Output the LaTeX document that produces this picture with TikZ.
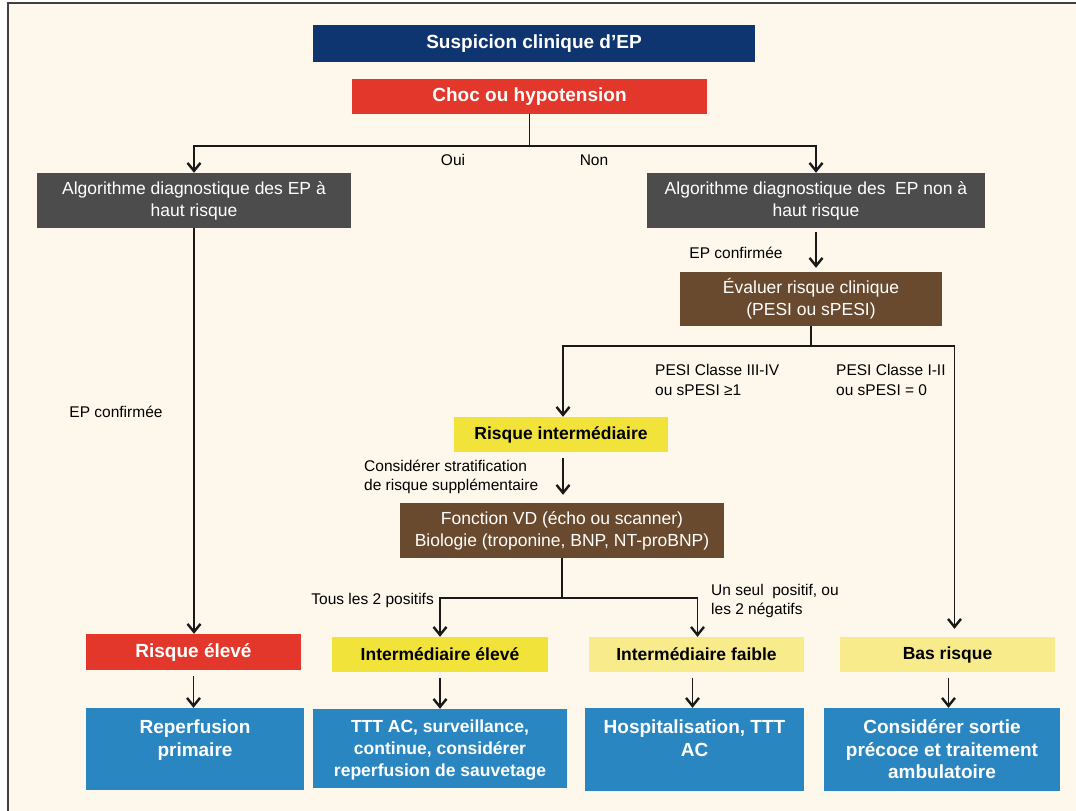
\documentclass[tikz,border=0pt]{standalone}
\usepackage{fontspec}
\setmainfont{Liberation Sans}
\usetikzlibrary{arrows.meta}
\definecolor{cream}{HTML}{FEF8EC}
\definecolor{navy}{HTML}{0E3570}
\definecolor{alarm}{HTML}{E2372A}
\definecolor{slate}{HTML}{4C4C4C}
\definecolor{cocoa}{HTML}{6A4A2E}
\definecolor{lemon}{HTML}{F2E33A}
\definecolor{paleyellow}{HTML}{F7EB8C}
\definecolor{sky}{HTML}{2A86C1}
\begin{document}
\begin{tikzpicture}[x=1pt,y=-1pt,
	every node/.style={inner sep=0pt, align=center, font=\fontsize{17.5}{22}\selectfont},
	box/.style={rectangle, fill=#1},
	hd/.style={font=\fontsize{17.5}{22}\selectfont\bfseries},
	big/.style={font=\fontsize{19}{22.5}\selectfont\bfseries},
	bluetxt/.style={big, text=white},
	lbl/.style={align=left, font=\fontsize{15.5}{19.5}\selectfont},
	conn/.style={line width=1.7pt, draw=black!90},
	arr/.style={conn, -{Straight Barb[length=8pt,width=13pt,line width=2.4pt]}}]
	
	\useasboundingbox (0,0) rectangle (1076,811);
	\fill[white] (0,0) rectangle (1076,811);
	\fill[cream] (8,3) rectangle (1076,811);
	\draw[line width=2pt, black!75] (8,811) -- (8,3) -- (1076,3);
	
	% boites
	\node[box=navy, big, text=white, minimum width=442, minimum height=37] (susp) at (534,43.5) {Suspicion clinique d’EP};
	\node[box=alarm, big, text=white, minimum width=355, minimum height=35] (choc) at (529.5,96.5) {Choc ou hypotension};
	\node[box=slate, text=white, minimum width=314, minimum height=55] (algoL) at (194,200.5) {Algorithme diagnostique des EP à\\haut risque};
	\node[box=slate, text=white, minimum width=338, minimum height=55] (algoR) at (816,200.5) {Algorithme diagnostique des\ \ EP non à\\haut risque};
	\node[box=cocoa, text=white, minimum width=262, minimum height=54] (eval) at (811,299) {Évaluer risque clinique\\(PESI ou sPESI)};
	\node[box=lemon, hd, minimum width=214, minimum height=35] (rint) at (561,434.5) {Risque intermédiaire};
	\node[box=cocoa, text=white, minimum width=324, minimum height=55] (fvd) at (562,530.5) {Fonction VD (écho ou scanner)\\Biologie (troponine, BNP, NT-proBNP)};
	
	\node[box=alarm, big, text=white, minimum width=215, minimum height=36] (relev) at (193.5,652) {Risque élevé};
	\node[box=lemon, hd, minimum width=216, minimum height=35] (ielev) at (440,654.5) {Intermédiaire élevé};
	\node[box=paleyellow, hd, minimum width=215, minimum height=35] (ifaib) at (696.5,654.5) {Intermédiaire faible};
	\node[box=paleyellow, hd, minimum width=215, minimum height=35] (bas) at (947.5,654.5) {Bas risque};
	
	\node[box=sky, minimum width=218, minimum height=82] (b1) at (195,749) {};
	\node[box=sky, minimum width=254, minimum height=79] (b2) at (440,748.5) {};
	\node[box=sky, minimum width=219, minimum height=83] (b3) at (694.5,749.5) {};
	\node[box=sky, minimum width=236, minimum height=83] (b4) at (942,749.5) {};
	\node[bluetxt, below=12pt] (b1t) at (b1.north) {Reperfusion\\primaire};
	\node[bluetxt, hd, below=10.5pt] (b2t) at (b2.north) {TTT AC, surveillance,\\continue, considérer\\reperfusion de sauvetage};
	\node[bluetxt, below=12pt] (b3t) at (b3.north) {Hospitalisation, TTT\\AC};
	\node[bluetxt, below=12pt] (b4t) at (b4.north) {Considérer sortie\\précoce et traitement\\ambulatoire};
	
	% fleches
	\draw[conn] (choc.south) -- ++(0,32) coordinate (c1);
	\draw[arr] (c1) -| (algoL.north);
	\draw[arr] (c1) -| (algoR.north);
	\draw[arr] (algoL.south) -- (algoL.south |- relev.north);
	\draw[arr, shorten <=4pt, shorten >=4pt] (algoR.south) -- (algoR.south |- eval.north);
	\draw[conn] (eval.south) -- ++(0,20) coordinate (c2);
	\draw[arr] (c2) -| ([xshift=2pt]rint.north);
	\draw[arr, shorten >=8pt] (c2) -| ([xshift=7pt]bas.north);
	\draw[arr, shorten <=6pt, shorten >=8pt] ([xshift=2pt]rint.south) -- ([xshift=1pt]fvd.north);
	\draw[conn] (fvd.south) -- ++(0,40) coordinate (c3);
	\draw[arr] (c3) -| (ielev.north);
	\draw[arr] (c3) -| ([xshift=1pt]ifaib.north);
	\draw[arr, shorten <=6pt] (relev.south) -- (relev.south |- b1.north);
	\draw[arr, shorten <=6pt] (ielev.south) -- (ielev.south |- b2.north);
	\draw[arr, shorten <=6pt] ([xshift=-4pt]ifaib.south) -- ([xshift=-4pt]ifaib.south |- b3.north);
	\draw[arr, shorten <=6pt] ([xshift=1pt]bas.south) -- ([xshift=1pt]bas.south |- b4.north);
	
	% etiquettes
	\node[lbl] (oui) at (453,160) {Oui};
	\node[lbl] (non) at (594,160) {Non};
	\node[lbl] (epcL) at (116,412) {EP confirmée};
	\node[lbl] (epcR) at (736,253) {EP confirmée};
	\node[lbl, anchor=west] (pesiA) at (655,380) {PESI Classe III-IV\\ou sPESI ≥1};
	\node[lbl, anchor=west] (pesiB) at (836,380) {PESI Classe I-II\\ou sPESI = 0};
	\node[lbl, anchor=west] (strat) at (364,477) {Considérer stratification\\de risque supplémentaire};
	\node[lbl, anchor=east] (tous) at (434,600) {Tous les 2 positifs};
	\node[lbl, anchor=west] (unseul) at (711,601) {Un seul\ \ positif, ou\\les 2 négatifs};
\end{tikzpicture}
\end{document}
